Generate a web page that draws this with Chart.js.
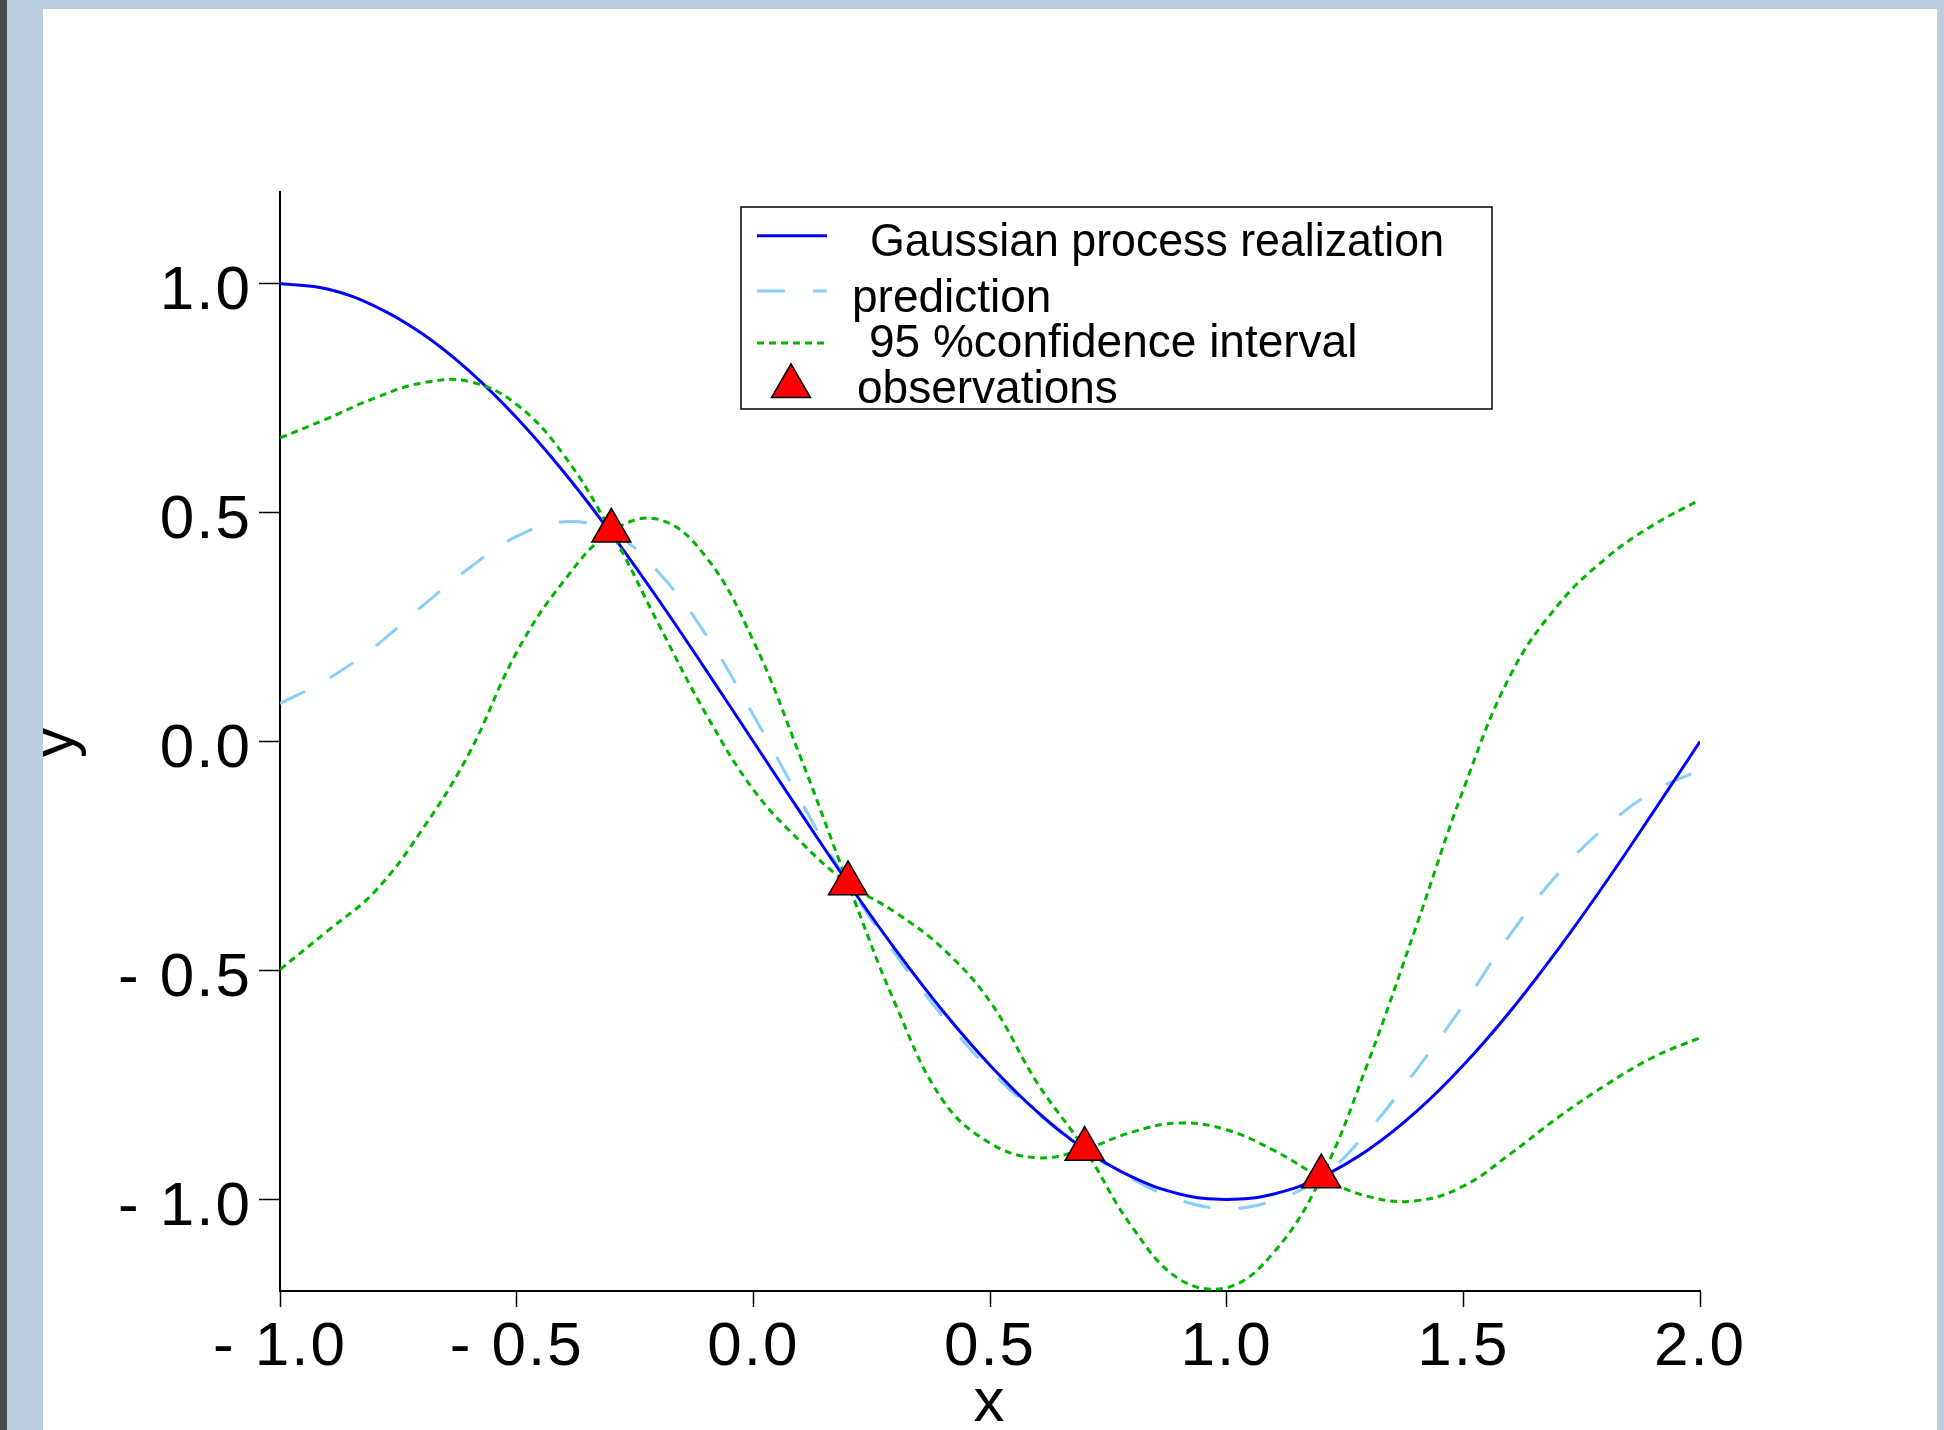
<!DOCTYPE html>
<html lang="en">
<head>
<meta charset="UTF-8">
<title>Gaussian process realization</title>
<script src="https://cdn.jsdelivr.net/npm/chart.js"></script>
<style>
    html, body { margin: 0; padding: 0; overflow: hidden; }
    body { width: 1944px; height: 1430px; background: #bdcde0; position: relative; }
    #edge { position: absolute; left: 0; top: 0; width: 7px; height: 1430px; background: #4a4b4f; }
    #panel { position: absolute; left: 43px; top: 9px; width: 1894px; height: 1431px; background: #fff; }
    canvas { display: block; }
</style>
</head>
<body>
<div id="edge"></div>
<div id="panel"><canvas id="myChart" width="1894" height="1431"></canvas></div>

<script>
    // x positions the curves were read at
    const xs = [-1.0, -0.9, -0.8, -0.7, -0.6, -0.5, -0.4, -0.3, -0.2, -0.1, 0.0,
        0.1, 0.2, 0.3, 0.4, 0.5, 0.6, 0.7, 0.8, 0.9, 1.0,
        1.1, 1.2, 1.3, 1.4, 1.5, 1.6, 1.7, 1.8, 1.9, 2.0];

    const realization = [1.000, 0.988, 0.951, 0.891, 0.809, 0.707, 0.588, 0.454, 0.309, 0.156, 0.000,
        -0.156, -0.309, -0.454, -0.588, -0.707, -0.809, -0.891, -0.951, -0.988, -1.000,
        -0.988, -0.951, -0.891, -0.809, -0.707, -0.588, -0.454, -0.309, -0.156, 0.000];

    const prediction = [0.083, 0.136, 0.207, 0.295, 0.379, 0.448, 0.480, 0.458, 0.369, 0.233, 0.058,
        -0.129, -0.310, -0.464, -0.600, -0.718, -0.812, -0.892, -0.955, -1.001, -1.020,
        -1.002, -0.952, -0.849, -0.718, -0.575, -0.420, -0.289, -0.187, -0.110, -0.062];

    // the two confidence curves cross at every observation
    const ciPlus = [0.663, 0.705, 0.750, 0.783, 0.786, 0.736, 0.625, 0.458, 0.256, 0.060, -0.105,
        -0.219, -0.310, -0.373, -0.452, -0.568, -0.746, -0.890, -1.060, -1.174, -1.193,
        -1.115, -0.952, -0.697, -0.405, -0.105, 0.146, 0.298, 0.399, 0.472, 0.528];

    const ciMinus = [-0.498, -0.414, -0.328, -0.193, -0.025, 0.195, 0.351, 0.458, 0.485, 0.403, 0.220,
        -0.035, -0.310, -0.573, -0.783, -0.877, -0.909, -0.890, -0.853, -0.833, -0.848,
        -0.893, -0.952, -0.994, -1.003, -0.971, -0.900, -0.821, -0.751, -0.690, -0.647];

    const obsX = [-0.3, 0.2, 0.7, 1.2];
    const obsY = [0.46, -0.31, -0.89, -0.95];

    const xTickValues = [-1.0, -0.5, 0.0, 0.5, 1.0, 1.5, 2.0];
    const xTickLabels = ['- 1.0', '- 0.5', '0.0', '0.5', '1.0', '1.5', '2.0'];
    const yTickValues = [-1.0, -0.5, 0.0, 0.5, 1.0];
    const yTickLabels = ['- 1.0', '- 0.5', '0.0', '0.5', '1.0'];

    const FONT = "'Liberation Sans', Arial, sans-serif";

    function toPoints(ys) {
        return xs.map((x, i) => ({ x: x, y: ys[i] }));
    }

    //small spacing between the tick label characters
    const tickSpacing = {
        id: 'tickSpacing',
        beforeDraw(chart) {
            chart.ctx.letterSpacing = '2px';
        }
    };

    //boxed legend in the upper middle of the plot
    const legendBox = {
        id: 'legendBox',
        afterDraw(chart) {
            const c = chart.ctx;
            const ds = chart.data.datasets;
            c.save();
            c.letterSpacing = '0px';
            c.fillStyle = '#fff';
            c.fillRect(698, 198, 751, 202);
            c.strokeStyle = '#000';
            c.lineWidth = 1.5;
            c.strokeRect(698, 198, 751, 202);

            const rows = [
                { ds: 0, y: 226.7, tx: 827, ty: 247, w: 574 },
                { ds: 1, y: 282, tx: 809, ty: 303 },
                { ds: 2, y: 334, tx: 826, ty: 348 },
                { ds: 4, y: 377.3, tx: 814, ty: 394 }
            ];
            c.font = '46px ' + FONT;
            c.textBaseline = 'alphabetic';
            rows.forEach(r => {
                const d = ds[r.ds];
                if (d.showLine === false) {
                    c.fillStyle = d.pointBackgroundColor;
                    c.strokeStyle = d.pointBorderColor;
                    c.lineWidth = d.pointBorderWidth;
                    Chart.helpers.drawPoint(c, {
                        pointStyle: d.pointStyle, radius: d.pointRadius,
                        rotation: 0, borderWidth: d.pointBorderWidth
                    }, 748, r.y);
                } else {
                    c.strokeStyle = d.borderColor;
                    c.lineWidth = d.borderWidth;
                    c.setLineDash(d.borderDash || []);
                    c.beginPath();
                    c.moveTo(714, r.y);
                    c.lineTo(784, r.y);
                    c.stroke();
                    c.setLineDash([]);
                }
                c.fillStyle = '#000';
                if (r.w) c.fillText(d.label, r.tx, r.ty, r.w);
                else c.fillText(d.label, r.tx, r.ty);
            });
            c.restore();
        }
    };

    const lineBase = { pointRadius: 0, borderWidth: 3, tension: 0.4, fill: false, borderCapStyle: 'butt' };

    let ctx = document.getElementById('myChart').getContext('2d');
    let myChart = new Chart(ctx, {
        type: 'line',
        data: {
            datasets: [
                Object.assign({ label: 'Gaussian process realization', data: toPoints(realization), borderColor: '#0000ff', order: 2 }, lineBase),
                Object.assign({ label: 'prediction', data: toPoints(prediction), borderColor: '#87cefa', borderDash: [28, 28], order: 3 }, lineBase),
                Object.assign({ label: '95 %confidence interval', data: toPoints(ciPlus), borderColor: '#00b400', borderDash: [7, 5], order: 1 }, lineBase),
                Object.assign({ label: '95 %confidence interval', data: toPoints(ciMinus), borderColor: '#00b400', borderDash: [7, 5], order: 1 }, lineBase),
                {
                    label: 'observations',
                    data: obsX.map((x, i) => ({ x: x, y: obsY[i] })),
                    showLine: false,
                    pointStyle: 'triangle',
                    pointRadius: 22.5,
                    pointHoverRadius: 22.5,
                    pointBackgroundColor: '#ff0000',
                    pointBorderColor: '#000000',
                    pointBorderWidth: 1.5,
                    order: 0
                }
            ]
        },
        options: {
            responsive: false,
            animation: false,
            devicePixelRatio: 1,
            layout: { padding: { left: 0, right: 237, top: 183, bottom: 0 } },
            plugins: { legend: { display: false }, tooltip: { enabled: false } },
            scales: {
                x: {
                    type: 'linear',
                    min: -1,
                    max: 2,
                    afterBuildTicks: s => { s.ticks = xTickValues.map(v => ({ value: v })); },
                    afterFit: s => { s.height = 149; },
                    ticks: {
                        callback: (v, i) => xTickLabels[i],
                        font: { family: FONT, size: 62 },
                        color: '#000',
                        padding: 4,
                        maxRotation: 0,
                        autoSkip: false
                    },
                    grid: { drawOnChartArea: false, tickLength: 16, tickColor: '#000', tickWidth: 1.5 },
                    border: { color: '#000', width: 2 },
                    title: {
                        display: true, text: 'x', color: '#000',
                        font: { family: FONT, size: 62, lineHeight: 1 },
                        padding: { top: 0, bottom: 5 }
                    }
                },
                y: {
                    type: 'linear',
                    min: -1.2,
                    max: 1.2,
                    afterBuildTicks: s => { s.ticks = yTickValues.map(v => ({ value: v })); },
                    afterFit: s => { s.width = 237; },
                    ticks: {
                        // empty first line pushes the label a little below its tick
                        callback: (v, i) => ['', yTickLabels[i]],
                        font: { family: FONT, size: 62, lineHeight: '16px' },
                        color: '#000',
                        padding: 7,
                        autoSkip: false
                    },
                    grid: { drawOnChartArea: false, tickLength: 21, tickColor: '#000', tickWidth: 1.5 },
                    border: { color: '#000', width: 2 },
                    title: {
                        display: true, text: 'y', color: '#000',
                        font: { family: FONT, size: 62, lineHeight: 0.42 },
                        padding: 0
                    }
                }
            }
        },
        plugins: [tickSpacing, legendBox]
    });
</script>
</body>
</html>
